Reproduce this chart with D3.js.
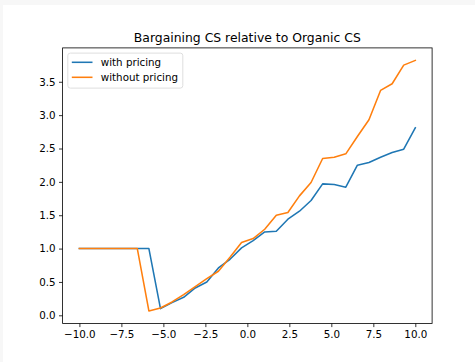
<!DOCTYPE html>
<html>
<head>
<meta charset="utf-8">
<script src="https://cdn.jsdelivr.net/npm/d3@7"></script>
<style>
  html, body { margin: 0; padding: 0; background: #f7f7f7; }
  svg { display: block; }
  text { font-family: "DejaVu Sans", sans-serif; fill: #000; }
</style>
</head>
<body>
<svg id="chart" width="475" height="362"></svg>
<script>
// Surplus ratio by parameter value, sampled on an even grid from -10 to 10
const xValues = [-10, -9.310, -8.621, -7.931, -7.241, -6.552, -5.862, -5.172, -4.483, -3.793,
  -3.103, -2.414, -1.724, -1.034, -0.345, 0.345, 1.034, 1.724, 2.414, 3.103,
  3.793, 4.483, 5.172, 5.862, 6.552, 7.241, 7.931, 8.621, 9.310, 10];

const withPricing = [1.0, 1.0, 1.0, 1.0, 1.0, 1.0, 1.0, 0.10, 0.19, 0.27,
  0.41, 0.50, 0.71, 0.84, 1.01, 1.12, 1.25, 1.26, 1.44, 1.56,
  1.72, 1.97, 1.96, 1.92, 2.25, 2.29, 2.37, 2.44, 2.49, 2.81];

const withoutPricing = [1.0, 1.0, 1.0, 1.0, 1.0, 1.0, 0.065, 0.11, 0.20, 0.31,
  0.43, 0.55, 0.66, 0.87, 1.09, 1.15, 1.29, 1.50, 1.54, 1.79,
  1.99, 2.35, 2.37, 2.42, 2.68, 2.93, 3.37, 3.47, 3.75, 3.82];

const seriesNames = ["with pricing", "without pricing"];
const seriesColors = ["#1f77b4", "#ff7f0e"];
const xTicks = [-10, -7.5, -5, -2.5, 0, 2.5, 5, 7.5, 10];
const yTicks = [0, 0.5, 1, 1.5, 2, 2.5, 3, 3.5];
const title = "Bargaining CS relative to Organic CS";

const svg = d3.select("#chart");

// figure canvas
svg.append("rect").attr("x", 3).attr("y", 5).attr("width", 472).attr("height", 357).attr("fill", "#fff");

const plot = { left: 62.6, right: 432.1, top: 47.9, bottom: 323.5 };

// 5% margins around the data range on both axes
function padded(lo, hi) { const p = (hi - lo) * 0.05; return [lo - p, hi + p]; }
const allY = withPricing.concat(withoutPricing);
const x = d3.scaleLinear().domain(padded(d3.min(xValues), d3.max(xValues))).range([plot.left, plot.right]);
const y = d3.scaleLinear().domain(padded(d3.min(allY), d3.max(allY))).range([plot.bottom, plot.top]);

const fmt = v => d3.format(".1f")(v).replace("-", "\u2212");
const fontSize = 10.3;

// axes
const xAxis = d3.axisBottom(x).tickValues(xTicks).tickFormat(fmt).tickSizeInner(3.6).tickSizeOuter(0).tickPadding(3.4);
const yAxis = d3.axisLeft(y).tickValues(yTicks).tickFormat(fmt).tickSizeInner(3.6).tickSizeOuter(0).tickPadding(3.4);

const gx = svg.append("g").attr("transform", `translate(0,${plot.bottom})`).call(xAxis);
const gy = svg.append("g").attr("transform", `translate(${plot.left},0)`).call(yAxis);
[gx, gy].forEach(g => {
  g.select(".domain").remove();
  g.selectAll(".tick line").attr("stroke", "#000").attr("stroke-width", 0.8);
  g.selectAll(".tick text").attr("font-size", fontSize).attr("font-family", "DejaVu Sans").attr("fill", "#000");
});

// series lines
const line = d3.line().x((d, i) => x(xValues[i])).y(d => y(d));
[withPricing, withoutPricing].forEach((vals, k) => {
  svg.append("path")
    .datum(vals)
    .attr("d", line)
    .attr("fill", "none")
    .attr("stroke", seriesColors[k])
    .attr("stroke-width", 1.55)
    .attr("stroke-linejoin", "round")
    .attr("stroke-linecap", "square");
});

// frame
svg.append("rect")
  .attr("x", plot.left).attr("y", plot.top)
  .attr("width", plot.right - plot.left).attr("height", plot.bottom - plot.top)
  .attr("fill", "none").attr("stroke", "#000").attr("stroke-width", 0.8);

// title
svg.append("text")
  .attr("x", (plot.left + plot.right) / 2).attr("y", plot.top - 6.2)
  .attr("text-anchor", "middle").attr("font-size", 12.4)
  .text(title);

// legend
const lg = svg.append("g").attr("transform", `translate(${plot.left + 5.2},${plot.top + 5.2})`);
lg.append("rect")
  .attr("width", 115).attr("height", 35).attr("rx", 2.5)
  .attr("fill", "#fff").attr("fill-opacity", 0.8)
  .attr("stroke", "#d6d6d6").attr("stroke-width", 0.8);
seriesNames.forEach((name, k) => {
  const cy = 9.2 + k * 15;
  lg.append("line").attr("x1", 4).attr("x2", 24.7).attr("y1", cy).attr("y2", cy)
    .attr("stroke", seriesColors[k]).attr("stroke-width", 1.55);
  lg.append("text").attr("x", 33).attr("y", cy).attr("dy", "0.35em")
    .attr("font-size", fontSize).text(name);
});
</script>
</body>
</html>
